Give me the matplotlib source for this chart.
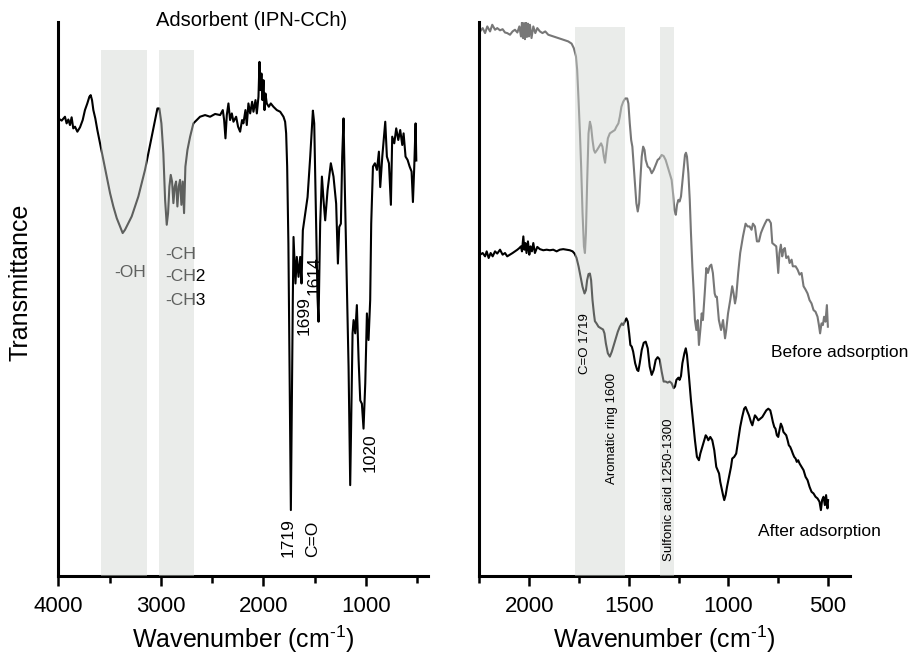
import numpy as np
import matplotlib
matplotlib.use("Agg")
import matplotlib.pyplot as plt
from matplotlib.ticker import MultipleLocator

plt.rcParams['font.family'] = ['Liberation Sans', 'DejaVu Sans']
plt.rcParams['mathtext.fontset'] = 'custom'
plt.rcParams['mathtext.rm'] = 'Liberation Sans'
plt.rcParams['mathtext.default'] = 'regular'

# ---- left panel: adsorbent IPN-CCh (wavenumber, transmittance a.u.) ----
left_wn = [4000, 3967, 3935, 3919, 3902, 3886, 3870, 3854, 3837, 3814, 3788, 3762, 3740, 3717,
           3697, 3684, 3671, 3658, 3639, 3619, 3593, 3561, 3528, 3495, 3463, 3430, 3398, 3372,
           3349, 3316, 3284, 3251, 3219, 3186, 3154, 3121, 3089, 3056, 3033, 3014, 2994, 2975,
           2958, 2942, 2929, 2916, 2903, 2890, 2877, 2864, 2851, 2838, 2825, 2812, 2799, 2786,
           2773, 2760, 2740, 2714, 2682, 2649, 2617, 2568, 2519, 2470, 2421, 2395, 2382, 2369,
           2356, 2340, 2324, 2307, 2291, 2265, 2246, 2226, 2207, 2194, 2174, 2161, 2145, 2128,
           2109, 2096, 2076, 2063, 2047, 2037, 2027, 2018, 2008, 1998, 1988, 1979, 1966, 1946,
           1927, 1901, 1868, 1835, 1803, 1787, 1777, 1767, 1755, 1742, 1731, 1722, 1712, 1705,
           1686, 1673, 1656, 1640, 1627, 1614, 1591, 1568, 1542, 1516, 1503, 1484, 1471, 1461,
           1445, 1428, 1412, 1396, 1373, 1341, 1315, 1289, 1272, 1259, 1243, 1230, 1217, 1204,
           1184, 1168, 1152, 1129, 1119, 1103, 1087, 1070, 1054, 1038, 1022, 1005, 989, 973,
           957, 947, 930, 911, 891, 872, 859, 839, 810, 794, 774, 755, 742, 722, 703, 683, 664,
           644, 631, 612, 592, 572, 553, 540, 527, 514, 507]
left_t = [82.6, 82.2, 82.9, 81.7, 82.4, 81.4, 82.8, 80.8, 81.1, 80.2, 81.0, 82.3, 84.1, 85.3,
          86.5, 86.8, 85.9, 84.1, 82.6, 80.5, 78.1, 75.1, 72.1, 69.1, 66.7, 64.6, 63.1, 61.9,
          62.5, 63.7, 64.9, 66.7, 68.5, 70.9, 73.3, 76.3, 79.3, 82.3, 84.4, 84.4, 81.7, 76.3,
          67.9, 63.4, 65.5, 70.3, 72.4, 71.2, 67.3, 70.3, 71.2, 66.7, 70.3, 71.5, 67.0, 71.2,
          65.5, 73.9, 76.9, 79.3, 81.7, 82.3, 82.9, 83.2, 82.9, 83.4, 83.2, 84.1, 82.3, 79.0,
          83.2, 85.3, 82.3, 83.5, 82.0, 82.9, 81.1, 80.2, 82.3, 81.7, 84.1, 81.4, 85.3, 83.5,
          85.6, 83.8, 85.9, 83.5, 86.5, 92.8, 87.7, 90.7, 85.9, 89.5, 84.1, 87.1, 85.3, 84.7,
          85.3, 84.7, 84.1, 83.8, 82.9, 82.0, 79.9, 73.9, 60.0, 35.0, 11.9, 30.0, 49.8, 61.2,
          52.8, 57.6, 54.0, 57.6, 52.8, 62.4, 65.4, 68.4, 75.7, 84.0, 81.7, 63.6, 50.4, 45.9,
          63.6, 72.1, 67.8, 64.2, 69.6, 74.5, 72.1, 67.2, 56.4, 63.0, 63.6, 75.7, 82.6, 69.6,
          51.6, 37.8, 16.4, 43.8, 46.2, 43.8, 48.9, 39.0, 31.7, 31.1, 26.6, 34.8, 47.4, 42.6,
          49.8, 63.6, 73.9, 74.5, 73.3, 76.6, 70.2, 75.7, 82.0, 75.7, 74.5, 67.0, 79.3, 78.1,
          80.8, 78.7, 80.5, 77.8, 79.9, 75.7, 75.1, 73.9, 73.0, 67.5, 73.9, 81.7, 75.0]

# ---- right panel: before adsorption ----
before_wn = [2246, 2233, 2221, 2210, 2196, 2185, 2171, 2160, 2146, 2133, 2121, 2110, 2096, 2083,
             2071, 2059, 2049, 2041, 2036, 2031, 2026, 2021, 2016, 2011, 2006, 2001, 1996, 1988,
             1979, 1969, 1959, 1946, 1933, 1919, 1904, 1887, 1871, 1854, 1837, 1821, 1804, 1787,
             1776, 1765, 1759, 1752, 1745, 1739, 1732, 1725, 1720, 1715, 1709, 1702, 1695, 1689,
             1682, 1675, 1669, 1659, 1649, 1639, 1632, 1625, 1619, 1612, 1605, 1595, 1582, 1570,
             1562, 1552, 1545, 1537, 1528, 1518, 1508, 1502, 1495, 1488, 1482, 1475, 1468, 1462,
             1455, 1448, 1442, 1435, 1428, 1421, 1415, 1405, 1395, 1385, 1375, 1365, 1355, 1345,
             1335, 1325, 1315, 1305, 1295, 1285, 1278, 1271, 1264, 1258, 1251, 1245, 1238, 1231,
             1224, 1218, 1213, 1208, 1201, 1194, 1188, 1181, 1174, 1168, 1161, 1154, 1148, 1141,
             1134, 1128, 1119, 1111, 1103, 1094, 1086, 1078, 1069, 1064, 1058, 1048, 1037, 1027,
             1017, 1011, 1002, 991, 981, 974, 967, 961, 951, 941, 927, 914, 904, 894, 884, 877,
             867, 857, 847, 837, 827, 817, 807, 797, 787, 780, 770, 760, 750, 744, 737, 730, 724,
             717, 710, 700, 693, 683, 677, 663, 653, 643, 633, 623, 613, 603, 593, 583, 573, 563,
             553, 546, 540, 533, 526, 520, 513, 506, 501]
before_t = [98.3, 98.9, 98.0, 99.2, 98.3, 99.5, 98.6, 98.9, 98.5, 98.7, 98.1, 98.0, 97.7, 98.3,
            98.6, 98.1, 99.2, 97.4, 99.9, 97.1, 99.8, 96.9, 99.9, 97.3, 99.7, 97.4, 99.5, 97.1,
            99.2, 98.0, 98.9, 98.3, 98.0, 98.3, 97.7, 97.5, 97.3, 97.1, 96.9, 96.7, 96.5, 96.1,
            95.3, 93.8, 91.4, 85.9, 79.9, 73.9, 65.5, 59.5, 58.3, 61.9, 70.9, 79.9, 82.0, 81.1,
            78.7, 76.9, 76.4, 76.9, 77.5, 78.1, 77.5, 75.7, 74.6, 76.9, 79.0, 79.9, 80.2, 80.5,
            81.1, 81.7, 82.9, 84.7, 85.6, 86.2, 86.2, 85.3, 81.7, 78.7, 77.5, 73.9, 70.3, 67.3,
            65.8, 67.3, 71.5, 75.7, 77.5, 76.9, 75.1, 73.9, 73.6, 72.7, 73.3, 74.2, 75.1, 75.4,
            76.0, 75.8, 75.1, 73.9, 72.7, 71.5, 69.1, 66.1, 65.2, 67.0, 67.9, 67.6, 68.5, 71.2,
            73.9, 76.0, 76.4, 75.7, 72.7, 67.9, 61.9, 55.9, 51.1, 46.2, 44.4, 46.2, 41.7, 44.4,
            47.4, 46.2, 51.0, 55.6, 54.7, 55.9, 56.2, 54.7, 51.0, 50.4, 50.4, 46.2, 44.4, 46.2,
            42.9, 44.4, 47.4, 49.8, 52.3, 51.0, 49.2, 50.4, 54.7, 58.3, 61.3, 63.6, 63.1, 63.1,
            62.5, 63.6, 63.1, 60.4, 60.4, 61.9, 62.8, 63.6, 64.3, 64.3, 63.7, 60.1, 59.8, 59.5,
            54.7, 58.3, 59.8, 57.7, 58.9, 59.2, 57.4, 57.7, 56.5, 57.1, 55.9, 55.9, 55.3, 54.4,
            54.7, 52.3, 51.7, 51.0, 49.8, 49.2, 48.0, 47.7, 46.8, 45.3, 43.8, 45.6, 45.3, 46.8,
            45.9, 48.9, 45.0]

# ---- right panel: after adsorption ----
after_wn = [2246, 2233, 2221, 2213, 2203, 2193, 2183, 2171, 2160, 2146, 2133, 2121, 2110, 2096,
            2083, 2071, 2059, 2049, 2041, 2036, 2029, 2024, 2019, 2013, 2006, 1999, 1993, 1986,
            1979, 1971, 1959, 1946, 1929, 1912, 1896, 1879, 1862, 1846, 1829, 1812, 1796, 1782,
            1772, 1762, 1752, 1742, 1732, 1722, 1715, 1709, 1702, 1695, 1689, 1682, 1675, 1670,
            1662, 1652, 1639, 1629, 1622, 1615, 1605, 1595, 1585, 1575, 1565, 1555, 1545, 1535,
            1528, 1518, 1512, 1505, 1498, 1492, 1485, 1478, 1468, 1458, 1452, 1445, 1435, 1425,
            1415, 1405, 1395, 1385, 1375, 1365, 1355, 1345, 1335, 1325, 1315, 1305, 1295, 1285,
            1275, 1268, 1261, 1251, 1245, 1238, 1231, 1221, 1214, 1208, 1198, 1188, 1178, 1168,
            1158, 1148, 1141, 1131, 1121, 1114, 1108, 1101, 1091, 1081, 1071, 1061, 1054, 1047,
            1041, 1034, 1027, 1021, 1014, 1007, 997, 987, 981, 971, 961, 951, 941, 931, 921, 914,
            907, 897, 887, 880, 874, 867, 860, 850, 840, 830, 820, 810, 800, 790, 784, 777, 770,
            764, 757, 750, 744, 737, 730, 724, 717, 710, 703, 697, 690, 683, 677, 670, 663, 657,
            650, 643, 633, 623, 613, 603, 593, 583, 573, 563, 553, 543, 536, 530, 523, 516, 510,
            503, 500]
after_t = [58.0, 58.3, 57.7, 58.6, 57.4, 58.3, 57.7, 58.6, 58.2, 58.9, 58.0, 58.3, 57.7, 58.0,
           58.3, 58.6, 58.9, 59.2, 59.5, 58.6, 61.3, 58.9, 60.1, 58.3, 60.4, 58.0, 59.5, 58.6,
           60.1, 58.3, 59.4, 59.0, 58.8, 58.9, 58.8, 58.9, 58.6, 58.9, 59.0, 58.9, 58.8, 58.6,
           58.2, 57.4, 55.9, 54.0, 52.2, 51.0, 51.6, 53.4, 54.5, 54.6, 53.4, 49.8, 47.4, 46.0,
           45.6, 45.0, 44.7, 44.5, 43.8, 42.0, 40.2, 39.6, 40.5, 41.7, 42.9, 44.1, 45.0, 45.6,
           45.3, 46.1, 46.5, 45.9, 43.8, 41.7, 41.4, 40.5, 38.4, 37.2, 37.0, 38.4, 40.8, 42.1,
           42.3, 41.1, 37.8, 36.3, 37.2, 39.0, 39.5, 39.1, 36.9, 35.1, 35.1, 34.9, 35.1, 34.8,
           33.9, 34.2, 35.4, 35.8, 35.4, 36.1, 38.4, 40.2, 41.1, 39.9, 36.0, 31.7, 28.1, 24.5,
           21.5, 20.9, 22.1, 23.3, 24.5, 25.4, 25.1, 24.5, 25.1, 24.5, 22.7, 19.7, 19.1, 18.5,
           17.0, 15.8, 14.6, 13.7, 14.6, 16.1, 17.9, 19.7, 21.2, 21.5, 22.1, 24.5, 26.9, 28.7,
           30.2, 30.5, 29.9, 29.0, 27.8, 27.2, 28.1, 29.0, 28.7, 28.1, 28.4, 28.7, 29.3, 29.9,
           30.2, 29.9, 29.0, 27.8, 26.9, 26.6, 25.4, 25.1, 26.3, 27.5, 26.9, 26.0, 25.7, 25.4,
           24.5, 23.6, 23.3, 22.7, 22.1, 21.5, 21.2, 20.6, 20.9, 20.3, 19.7, 19.1, 17.9, 17.3,
           16.1, 15.2, 14.9, 14.3, 14.0, 13.4, 11.9, 13.7, 14.3, 12.8, 14.6, 12.2, 13.7]

left_bands = [(3583, 3137), (3017, 2672)]
right_bands = [(1770, 1518), (1343, 1273)]

shade = '#d2d6d2'
gray = '#777777'

fig = plt.figure(figsize=(9.13, 6.55), dpi=100)
ax1 = fig.add_axes([58.3 / 913, 79 / 655, 370 / 913, 554 / 655])
ax2 = fig.add_axes([479.3 / 913, 79 / 655, 370.7 / 913, 554 / 655])

for ax in (ax1, ax2):
    ax.spines['top'].set_visible(False)
    ax.spines['right'].set_visible(False)
    ax.spines['left'].set_linewidth(2.2)
    ax.spines['bottom'].set_linewidth(2.2)
    ax.set_yticks([])
    ax.set_ylim(0, 100)
    ax.tick_params(axis='x', which='major', length=7.5, width=1.8, labelsize=16, pad=7)
    ax.tick_params(axis='x', which='minor', length=5, width=1.8)
    ax.set_xlabel('Wavenumber (cm$^{\\text{-}1}$)', fontsize=18, labelpad=5)

# left
ax1.set_xlim(4000, 390)
ax1.xaxis.set_major_locator(MultipleLocator(1000))
ax1.xaxis.set_minor_locator(MultipleLocator(500))
ax1.plot(left_wn, left_t, color='black', lw=1.5, zorder=2)
for a, b in left_bands:
    ax1.axvspan(a, b, ymin=0, ymax=0.949, color=shade, alpha=0.45, lw=0, zorder=3)

ax1.text(3456, 54.7, '-OH', fontsize=12.5, va='center', ha='left', zorder=1)
ax1.text(2958, 58.1, '-CH', fontsize=12.5, va='center', ha='left', zorder=1)
ax1.text(2958, 54.0, '-CH2', fontsize=12.5, va='center', ha='left', zorder=1)
ax1.text(2958, 49.8, '-CH3', fontsize=12.5, va='center', ha='left', zorder=1)
ax1.text(1757, 3.4, '1719', fontsize=12.5, rotation=90, ha='center', va='bottom')
ax1.text(1523, 3.4, 'C=O', fontsize=12.5, rotation=90, ha='center', va='bottom')
ax1.text(1605, 43.5, '1699', fontsize=12.5, rotation=90, ha='center', va='bottom')
ax1.text(1508, 50.7, '1614', fontsize=12.5, rotation=90, ha='center', va='bottom')
ax1.text(956, 18.8, '1020', fontsize=12.5, rotation=90, ha='center', va='bottom')

# right
ax2.set_xlim(2250, 390)
ax2.xaxis.set_major_locator(MultipleLocator(500))
ax2.xaxis.set_minor_locator(MultipleLocator(250))
ax2.plot(before_wn, before_t, color=gray, lw=1.5, zorder=2)
ax2.plot(after_wn, after_t, color='black', lw=1.5, zorder=2)
for a, b in right_bands:
    ax2.axvspan(a, b, ymin=0, ymax=0.991, color=shade, alpha=0.45, lw=0, zorder=3)

ax2.text(1720, 47.5, 'C=O 1719', fontsize=9.5, rotation=90, ha='center', va='top', zorder=4)
ax2.text(1582, 36.6, 'Aromatic ring 1600', fontsize=9.5, rotation=90, ha='center', va='top', zorder=4)
ax2.text(1298, 28.5, 'Sulfonic acid 1250-1300', fontsize=9.5, rotation=90, ha='center', va='top', zorder=4)
ax2.text(784, 40.4, 'Before adsorption', fontsize=12.5, va='center', ha='left', clip_on=False)
ax2.text(854, 8.1, 'After adsorption', fontsize=12.5, va='center', ha='left', clip_on=False)

fig.text(252 / 913, 1 - 20 / 655, 'Adsorbent (IPN-CCh)', fontsize=14.5, ha='center', va='center')
fig.text(20 / 913, 1 - 282 / 655, 'Transmittance', fontsize=18, rotation=90, ha='center', va='center')

fig.savefig('out.png', dpi=100)
